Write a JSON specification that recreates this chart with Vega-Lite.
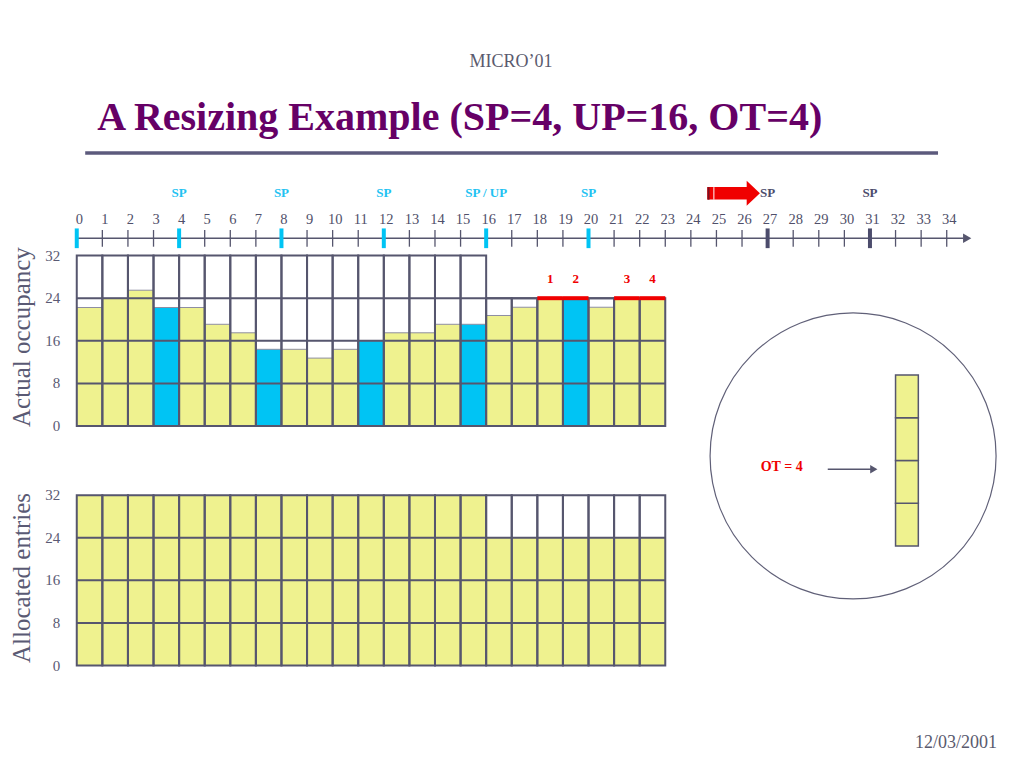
{
  "$schema": "https://vega.github.io/schema/vega-lite/v6.json",
  "width": 1024,
  "height": 768,
  "autosize": {"type": "fit", "contains": "padding"},
  "padding": 0,
  "background": "white",
  "config": {"view": {"stroke": null}, "text": {"font": "Liberation Serif"}, "axis": {"disable": true}, "legend": {"disable": true}},
  "datasets": {
    "slots": [
      {"slot": 0, "end": 1, "occ": 22.25, "phase": "normal", "alloc": 32},
      {"slot": 1, "end": 2, "occ": 24, "phase": "normal", "alloc": 32},
      {"slot": 2, "end": 3, "occ": 25.5, "phase": "normal", "alloc": 32},
      {"slot": 3, "end": 4, "occ": 22.25, "phase": "SP", "alloc": 32},
      {"slot": 4, "end": 5, "occ": 22.25, "phase": "normal", "alloc": 32},
      {"slot": 5, "end": 6, "occ": 19.1, "phase": "normal", "alloc": 32},
      {"slot": 6, "end": 7, "occ": 17.5, "phase": "normal", "alloc": 32},
      {"slot": 7, "end": 8, "occ": 14.4, "phase": "SP", "alloc": 32},
      {"slot": 8, "end": 9, "occ": 14.4, "phase": "normal", "alloc": 32},
      {"slot": 9, "end": 10, "occ": 12.75, "phase": "normal", "alloc": 32},
      {"slot": 10, "end": 11, "occ": 14.4, "phase": "normal", "alloc": 32},
      {"slot": 11, "end": 12, "occ": 16, "phase": "SP", "alloc": 32},
      {"slot": 12, "end": 13, "occ": 17.5, "phase": "normal", "alloc": 32},
      {"slot": 13, "end": 14, "occ": 17.5, "phase": "normal", "alloc": 32},
      {"slot": 14, "end": 15, "occ": 19.1, "phase": "normal", "alloc": 32},
      {"slot": 15, "end": 16, "occ": 19.1, "phase": "SP", "alloc": 32},
      {"slot": 16, "end": 17, "occ": 20.75, "phase": "normal", "alloc": 24},
      {"slot": 17, "end": 18, "occ": 22.3, "phase": "normal", "alloc": 24},
      {"slot": 18, "end": 19, "occ": 24, "phase": "normal", "alloc": 24},
      {"slot": 19, "end": 20, "occ": 24, "phase": "SP", "alloc": 24},
      {"slot": 20, "end": 21, "occ": 22.3, "phase": "normal", "alloc": 24},
      {"slot": 21, "end": 22, "occ": 24, "phase": "normal", "alloc": 24},
      {"slot": 22, "end": 23, "occ": 24, "phase": "normal", "alloc": 24}
    ],
    "levels": [{"level": 8}, {"level": 16}, {"level": 24}],
    "yticks": [{"v": 0}, {"v": 8}, {"v": 16}, {"v": 24}, {"v": 32}],
    "timeline": [
      {"t": 0}, {"t": 1}, {"t": 2}, {"t": 3}, {"t": 4}, {"t": 5}, {"t": 6}, {"t": 7}, {"t": 8}, {"t": 9},
      {"t": 10}, {"t": 11}, {"t": 12}, {"t": 13}, {"t": 14}, {"t": 15}, {"t": 16}, {"t": 17}, {"t": 18}, {"t": 19},
      {"t": 20}, {"t": 21}, {"t": 22}, {"t": 23}, {"t": 24}, {"t": 25}, {"t": 26}, {"t": 27}, {"t": 28}, {"t": 29},
      {"t": 30}, {"t": 31}, {"t": 32}, {"t": 33}, {"t": 34}
    ],
    "markers": [
      {"t": 0, "group": "current", "label": ""},
      {"t": 4, "group": "current", "label": "SP"},
      {"t": 8, "group": "current", "label": "SP"},
      {"t": 12, "group": "current", "label": "SP"},
      {"t": 16, "group": "current", "label": "SP / UP"},
      {"t": 20, "group": "current", "label": "SP"},
      {"t": 27, "group": "future", "label": "SP"},
      {"t": 31, "group": "future", "label": "SP"}
    ],
    "overflow": [
      {"slot": 18, "end": 19, "n": "1"},
      {"slot": 19, "end": 20, "n": "2"},
      {"slot": 21, "end": 22, "n": "3"},
      {"slot": 22, "end": 23, "n": "4"}
    ],
    "ot": [{"lo": 0, "hi": 1}, {"lo": 1, "hi": 2}, {"lo": 2, "hi": 3}, {"lo": 3, "hi": 4}]
  },
  "encoding": {
    "x": {"type": "quantitative", "scale": {"domain": [-3.0, 37.02], "nice": false, "zero": false}, "axis": null}
  },
  "layer": [
    {
      "data": {"name": "slots"},
      "mark": {"type": "rect", "stroke": "#8e8ea2", "strokeWidth": 1},
      "encoding": {
        "x": {"field": "slot", "type": "quantitative"},
        "x2": {"field": "end"},
        "y": {"field": "occ", "type": "quantitative", "scale": {"domain": [-64.23, 80.0], "nice": false, "zero": false}, "axis": null},
        "y2": {"datum": 0},
        "color": {"field": "phase", "type": "nominal", "scale": {"domain": ["normal", "SP"], "range": ["#eff28f", "#00c4f4"]}, "legend": null}
      }
    },
    {
      "data": {"name": "levels"},
      "mark": {"type": "rule", "stroke": "#56566e", "strokeWidth": 2},
      "encoding": {
        "x": {"datum": 0, "type": "quantitative"},
        "x2": {"datum": 23},
        "y": {"field": "level", "type": "quantitative", "scale": {"domain": [-64.23, 80.0], "nice": false, "zero": false}, "axis": null}
      }
    },
    {
      "data": {"name": "slots"},
      "mark": {"type": "rect", "fill": "white", "fillOpacity": 0, "stroke": "#56566e", "strokeWidth": 2},
      "encoding": {
        "x": {"field": "slot", "type": "quantitative"},
        "x2": {"field": "end"},
        "y": {"field": "alloc", "type": "quantitative", "scale": {"domain": [-64.23, 80.0], "nice": false, "zero": false}, "axis": null},
        "y2": {"datum": 0}
      }
    },
    {
      "data": {"name": "overflow"},
      "mark": {"type": "rule", "stroke": "#f00000", "strokeWidth": 4},
      "encoding": {
        "x": {"field": "slot", "type": "quantitative"},
        "x2": {"field": "end"},
        "y": {"datum": 24, "type": "quantitative", "scale": {"domain": [-64.23, 80.0], "nice": false, "zero": false}, "axis": null}
      }
    },
    {
      "data": {"name": "overflow"},
      "mark": {"type": "text", "fontWeight": "bold", "fontSize": 13, "fill": "#f00000", "dx": 12.8, "align": "center", "baseline": "middle"},
      "encoding": {
        "x": {"field": "slot", "type": "quantitative"},
        "y": {"datum": 27.6, "type": "quantitative", "scale": {"domain": [-64.23, 80.0], "nice": false, "zero": false}, "axis": null},
        "text": {"field": "n"}
      }
    },
    {
      "data": {"name": "yticks"},
      "mark": {"type": "text", "fontSize": 15, "fill": "#5a5a74", "align": "right", "baseline": "middle"},
      "encoding": {
        "x": {"datum": -0.65, "type": "quantitative"},
        "y": {"field": "v", "type": "quantitative", "scale": {"domain": [-64.23, 80.0], "nice": false, "zero": false}, "axis": null},
        "text": {"field": "v"}
      }
    },
    {
      "data": {"values": [{"label": "Actual occupancy"}]},
      "mark": {"type": "text", "fontSize": 25, "fill": "#5a5a74", "angle": 270, "align": "center", "baseline": "middle"},
      "encoding": {
        "x": {"datum": -2.14, "type": "quantitative"},
        "y": {"datum": 16.7, "type": "quantitative", "scale": {"domain": [-64.23, 80.0], "nice": false, "zero": false}, "axis": null},
        "text": {"field": "label"}
      }
    },
    {
      "data": {"values": [{"label": "time"}]},
      "mark": {"type": "rule", "stroke": "#56566e", "strokeWidth": 1.5},
      "encoding": {
        "x": {"datum": 0, "type": "quantitative"},
        "x2": {"datum": 34.65},
        "y": {"datum": 35.25, "type": "quantitative", "scale": {"domain": [-64.23, 80.0], "nice": false, "zero": false}, "axis": null}
      }
    },
    {
      "data": {"values": [{"label": "time"}]},
      "mark": {"type": "point", "shape": "triangle-right", "filled": true, "opacity": 1, "size": 90, "color": "#56566e"},
      "encoding": {
        "x": {"datum": 34.8, "type": "quantitative"},
        "y": {"datum": 35.25, "type": "quantitative", "scale": {"domain": [-64.23, 80.0], "nice": false, "zero": false}, "axis": null}
      }
    },
    {
      "data": {"name": "timeline"},
      "mark": {"type": "rule", "stroke": "#56566e", "strokeWidth": 1.3},
      "encoding": {
        "x": {"field": "t", "type": "quantitative"},
        "y": {"datum": 33.67, "type": "quantitative", "scale": {"domain": [-64.23, 80.0], "nice": false, "zero": false}, "axis": null},
        "y2": {"datum": 36.8}
      }
    },
    {
      "data": {"name": "timeline"},
      "mark": {"type": "text", "fontSize": 14.5, "fill": "#50506a", "align": "center", "baseline": "middle", "dx": 2.5},
      "encoding": {
        "x": {"field": "t", "type": "quantitative"},
        "y": {"datum": 38.7, "type": "quantitative", "scale": {"domain": [-64.23, 80.0], "nice": false, "zero": false}, "axis": null},
        "text": {"field": "t"}
      }
    },
    {
      "data": {"name": "markers"},
      "transform": [{"filter": "datum.group === 'current'"}],
      "mark": {"type": "rule", "strokeWidth": 4, "stroke": "#00c4f4"},
      "encoding": {
        "x": {"field": "t", "type": "quantitative"},
        "y": {"datum": 33.4, "type": "quantitative", "scale": {"domain": [-64.23, 80.0], "nice": false, "zero": false}, "axis": null},
        "y2": {"datum": 37.1}
      }
    },
    {
      "data": {"name": "markers"},
      "transform": [{"filter": "datum.group === 'future'"}],
      "mark": {"type": "rule", "strokeWidth": 4, "stroke": "#4c4c6c"},
      "encoding": {
        "x": {"field": "t", "type": "quantitative"},
        "y": {"datum": 33.4, "type": "quantitative", "scale": {"domain": [-64.23, 80.0], "nice": false, "zero": false}, "axis": null},
        "y2": {"datum": 37.1}
      }
    },
    {
      "data": {"name": "markers"},
      "transform": [{"filter": "datum.group === 'current'"}],
      "mark": {"type": "text", "fontWeight": "bold", "fontSize": 13, "align": "center", "baseline": "middle", "fill": "#22c2f2"},
      "encoding": {
        "x": {"field": "t", "type": "quantitative"},
        "y": {"datum": 43.76, "type": "quantitative", "scale": {"domain": [-64.23, 80.0], "nice": false, "zero": false}, "axis": null},
        "text": {"field": "label"}
      }
    },
    {
      "data": {"name": "markers"},
      "transform": [{"filter": "datum.group === 'future'"}],
      "mark": {"type": "text", "fontWeight": "bold", "fontSize": 13, "align": "center", "baseline": "middle", "fill": "#4c4c6c"},
      "encoding": {
        "x": {"field": "t", "type": "quantitative"},
        "y": {"datum": 43.76, "type": "quantitative", "scale": {"domain": [-64.23, 80.0], "nice": false, "zero": false}, "axis": null},
        "text": {"field": "label"}
      }
    },
    {
      "data": {"values": [{"label": "arrow"}]},
      "mark": {"type": "rule", "stroke": "#f00000", "strokeWidth": 12.5},
      "encoding": {
        "x": {"datum": 24.64, "type": "quantitative"},
        "x2": {"datum": 26.2},
        "y": {"datum": 43.7, "type": "quantitative", "scale": {"domain": [-64.23, 80.0], "nice": false, "zero": false}, "axis": null}
      }
    },
    {
      "data": {"values": [{"label": "arrow"}]},
      "mark": {"type": "rule", "stroke": "#7a1020", "strokeWidth": 2},
      "encoding": {
        "x": {"datum": 24.69, "type": "quantitative"},
        "y": {"datum": 42.5, "type": "quantitative", "scale": {"domain": [-64.23, 80.0], "nice": false, "zero": false}, "axis": null},
        "y2": {"datum": 44.85}
      }
    },
    {
      "data": {"values": [{"label": "arrow"}]},
      "mark": {"type": "rule", "stroke": "#ffffff", "strokeWidth": 1},
      "encoding": {
        "x": {"datum": 24.9, "type": "quantitative"},
        "y": {"datum": 42.5, "type": "quantitative", "scale": {"domain": [-64.23, 80.0], "nice": false, "zero": false}, "axis": null},
        "y2": {"datum": 44.85}
      }
    },
    {
      "data": {"values": [{"label": "arrow"}]},
      "mark": {"type": "point", "shape": "M -0.53 -1 L 0.53 0 L -0.53 1 Z", "filled": true, "opacity": 1, "size": 625, "color": "#f00000"},
      "encoding": {
        "x": {"datum": 26.44, "type": "quantitative"},
        "y": {"datum": 43.7, "type": "quantitative", "scale": {"domain": [-64.23, 80.0], "nice": false, "zero": false}, "axis": null}
      }
    },
    {
      "data": {"values": [{"label": "A Resizing Example (SP=4, UP=16, OT=4)"}]},
      "mark": {"type": "text", "fontSize": 40, "fontWeight": "bold", "fill": "#660066", "align": "left", "baseline": "alphabetic"},
      "encoding": {
        "x": {"datum": 0.8, "type": "quantitative"},
        "y": {"datum": 55.6, "type": "quantitative", "scale": {"domain": [-64.23, 80.0], "nice": false, "zero": false}, "axis": null},
        "text": {"field": "label"}
      }
    },
    {
      "data": {"values": [{"label": "MICRO’01"}]},
      "mark": {"type": "text", "fontSize": 18, "fill": "#5a5a6e", "align": "center", "baseline": "alphabetic"},
      "encoding": {
        "x": {"datum": 16.97, "type": "quantitative"},
        "y": {"datum": 67.4, "type": "quantitative", "scale": {"domain": [-64.23, 80.0], "nice": false, "zero": false}, "axis": null},
        "text": {"field": "label"}
      }
    },
    {
      "data": {"values": [{"label": "rule"}]},
      "mark": {"type": "rule", "stroke": "#5c5a7c", "strokeWidth": 3.5},
      "encoding": {
        "x": {"datum": 0.33, "type": "quantitative"},
        "x2": {"datum": 33.66},
        "y": {"datum": 51.27, "type": "quantitative", "scale": {"domain": [-64.23, 80.0], "nice": false, "zero": false}, "axis": null}
      }
    },
    {
      "data": {"values": [{"label": "12/03/2001"}]},
      "mark": {"type": "text", "fontSize": 18, "fill": "#5a5a6e", "align": "right", "baseline": "alphabetic"},
      "encoding": {
        "x": {"datum": 35.97, "type": "quantitative"},
        "y": {"datum": -60.47, "type": "quantitative", "scale": {"domain": [-64.23, 80.0], "nice": false, "zero": false}, "axis": null},
        "text": {"field": "label"}
      }
    },
    {
      "data": {"values": [{"label": "circle"}]},
      "mark": {"type": "point", "shape": "circle", "filled": false, "opacity": 1, "size": 81796, "stroke": "#606078", "strokeWidth": 1.2},
      "encoding": {
        "x": {"datum": 30.34, "type": "quantitative"},
        "y": {"datum": -5.63, "type": "quantitative", "scale": {"domain": [-64.23, 80.0], "nice": false, "zero": false}, "axis": null}
      }
    },
    {
      "data": {"values": [{"label": "OT = 4"}]},
      "mark": {"type": "text", "fontSize": 14, "fontWeight": "bold", "fill": "#f00000", "align": "center", "baseline": "middle"},
      "encoding": {
        "x": {"datum": 27.55, "type": "quantitative"},
        "y": {"datum": -7.64, "type": "quantitative", "scale": {"domain": [-64.23, 80.0], "nice": false, "zero": false}, "axis": null},
        "text": {"field": "label"}
      }
    },
    {
      "data": {"values": [{"label": "ot arrow"}]},
      "mark": {"type": "rule", "stroke": "#56566e", "strokeWidth": 1.5},
      "encoding": {
        "x": {"datum": 29.35, "type": "quantitative"},
        "x2": {"datum": 31.05},
        "y": {"datum": -8.13, "type": "quantitative", "scale": {"domain": [-64.23, 80.0], "nice": false, "zero": false}, "axis": null}
      }
    },
    {
      "data": {"values": [{"label": "ot arrow"}]},
      "mark": {"type": "point", "shape": "triangle-right", "filled": true, "opacity": 1, "size": 70, "color": "#56566e"},
      "encoding": {
        "x": {"datum": 31.15, "type": "quantitative"},
        "y": {"datum": -8.13, "type": "quantitative", "scale": {"domain": [-64.23, 80.0], "nice": false, "zero": false}, "axis": null}
      }
    },
    {
      "data": {"name": "ot"},
      "mark": {"type": "rect", "fill": "#eff28f", "stroke": "#56566e", "strokeWidth": 1.5},
      "encoding": {
        "x": {"datum": 32.0, "type": "quantitative"},
        "x2": {"datum": 32.89},
        "y": {"field": "lo", "type": "quantitative", "scale": {"domain": [-5.19, 12.77], "nice": false, "zero": false}, "axis": null},
        "y2": {"field": "hi"}
      }
    },
    {
      "data": {"name": "slots"},
      "mark": {"type": "rect", "fill": "#eff28f"},
      "encoding": {
        "x": {"field": "slot", "type": "quantitative"},
        "x2": {"field": "end"},
        "y": {"field": "alloc", "type": "quantitative", "scale": {"domain": [-19.25, 125], "nice": false, "zero": false}, "axis": null},
        "y2": {"datum": 0}
      }
    },
    {
      "data": {"name": "levels"},
      "mark": {"type": "rule", "stroke": "#56566e", "strokeWidth": 2},
      "encoding": {
        "x": {"datum": 0, "type": "quantitative"},
        "x2": {"datum": 23},
        "y": {"field": "level", "type": "quantitative", "scale": {"domain": [-19.25, 125], "nice": false, "zero": false}, "axis": null}
      }
    },
    {
      "data": {"name": "slots"},
      "mark": {"type": "rect", "fill": "white", "fillOpacity": 0, "stroke": "#56566e", "strokeWidth": 2},
      "encoding": {
        "x": {"field": "slot", "type": "quantitative"},
        "x2": {"field": "end"},
        "y": {"datum": 32, "type": "quantitative", "scale": {"domain": [-19.25, 125], "nice": false, "zero": false}, "axis": null},
        "y2": {"datum": 0}
      }
    },
    {
      "data": {"name": "yticks"},
      "mark": {"type": "text", "fontSize": 15, "fill": "#5a5a74", "align": "right", "baseline": "middle"},
      "encoding": {
        "x": {"datum": -0.65, "type": "quantitative"},
        "y": {"field": "v", "type": "quantitative", "scale": {"domain": [-19.25, 125], "nice": false, "zero": false}, "axis": null},
        "text": {"field": "v"}
      }
    },
    {
      "data": {"values": [{"label": "Allocated entries"}]},
      "mark": {"type": "text", "fontSize": 25, "fill": "#5a5a74", "angle": 270, "align": "center", "baseline": "middle"},
      "encoding": {
        "x": {"datum": -2.14, "type": "quantitative"},
        "y": {"datum": 16.43, "type": "quantitative", "scale": {"domain": [-19.25, 125], "nice": false, "zero": false}, "axis": null},
        "text": {"field": "label"}
      }
    }
  ],
  "resolve": {"scale": {"y": "independent"}}
}
